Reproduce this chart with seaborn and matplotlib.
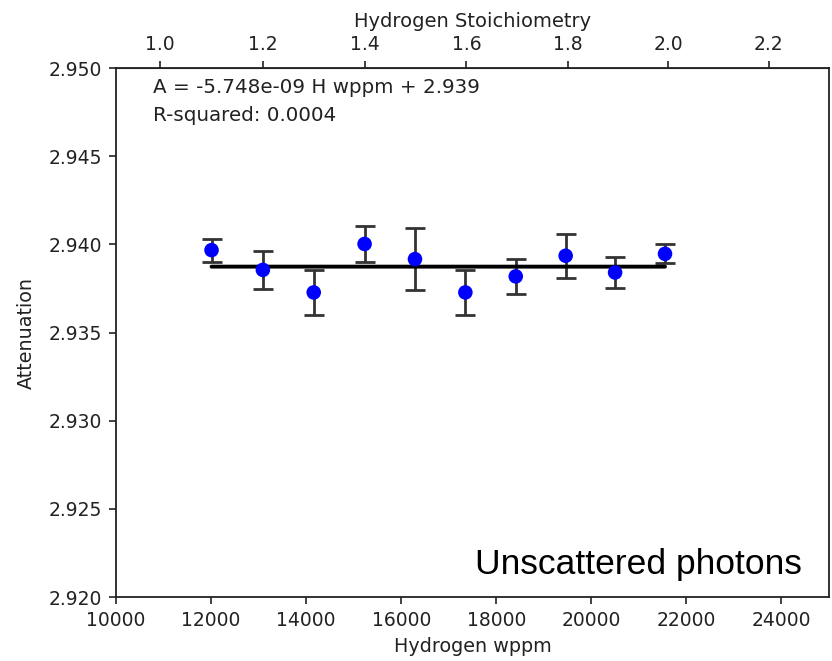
import numpy as np
import pandas as pd
import matplotlib
matplotlib.use("Agg")
import matplotlib.pyplot as plt
import seaborn as sns

# data
h_wppm = [12010, 13090, 14160, 15230, 16290, 17350, 18410, 19460, 20500, 21550]
attenuation = [2.93968, 2.93856, 2.93728, 2.94003, 2.93917,
               2.93728, 2.93819, 2.93936, 2.93841, 2.93947]
att_err = [0.00065, 0.00106, 0.00126, 0.00102, 0.00176,
           0.00126, 0.00100, 0.00126, 0.00089, 0.00053]
fit_text = "A = -5.748e-09 H wppm + 2.939\nR-squared: 0.0004"
panel_label = "Unscattered photons"

# ZrHx: wppm <-> stoichiometry for the top axis
M_ZR, M_H = 91.224, 1.008

def wppm_to_x(w):
    w = np.asarray(w, dtype=float)
    return w * M_ZR / (M_H * (1e6 - w))

def x_to_wppm(x):
    x = np.asarray(x, dtype=float)
    return 1e6 * x * M_H / (M_ZR + x * M_H)

df = pd.DataFrame({"wppm": h_wppm, "att": attenuation, "err": att_err})
slope, icpt = np.polyfit(df["wppm"], df["att"], 1)
fit_df = pd.DataFrame({"wppm": [df["wppm"].min(), df["wppm"].max()]})
fit_df["att"] = slope * fit_df["wppm"] + icpt

sns.set_style("ticks")
plt.rcParams["font.family"] = ["DejaVu Sans"]
txt_col = "#222222"

fig = plt.figure(figsize=(8.32, 6.61), dpi=100)
ax = fig.add_axes([0.1394, 0.0968, 0.857, 0.800])

ax.errorbar(df["wppm"], df["att"], yerr=df["err"], fmt="none",
            ecolor="#333333", elinewidth=2, capsize=7.5, capthick=2, zorder=2)
sns.lineplot(data=fit_df, x="wppm", y="att", color="black", linewidth=2.8,
             ax=ax, zorder=3)
sns.scatterplot(data=df, x="wppm", y="att", color="blue", s=110,
                edgecolor="none", ax=ax, zorder=4)

ax.set_xlim(10000, 25000)
ax.set_ylim(2.920, 2.950)
ax.set_xticks(np.arange(10000, 24001, 2000))
ax.set_yticks(np.arange(2.920, 2.9501, 0.005))
ax.yaxis.set_major_formatter(matplotlib.ticker.FormatStrFormatter("%.3f"))
ax.set_xlabel("Hydrogen wppm", fontsize=13.8, color=txt_col, labelpad=5)
ax.set_ylabel("Attenuation", fontsize=13.8, color=txt_col, labelpad=9)
ax.tick_params(labelsize=13.5, length=4.8, width=1.2, pad=5.5, colors=txt_col)
for sp in ax.spines.values():
    sp.set_visible(True)
    sp.set_linewidth(1.3)
    sp.set_color(txt_col)

top = ax.secondary_xaxis("top", functions=(wppm_to_x, x_to_wppm))
top.set_xticks([1.0, 1.2, 1.4, 1.6, 1.8, 2.0, 2.2])
top.xaxis.set_major_formatter(matplotlib.ticker.FormatStrFormatter("%.1f"))
top.set_xlabel("Hydrogen Stoichiometry", fontsize=14, color=txt_col, labelpad=6)
top.tick_params(labelsize=13.5, length=4.8, width=1.2, pad=5.5, colors=txt_col)

ax.text(0.052, 0.982, fit_text, transform=ax.transAxes, ha="left", va="top",
        fontsize=14.3, linespacing=1.6, color=txt_col)
ax.text(0.962, 0.03, panel_label, transform=ax.transAxes, ha="right",
        va="bottom", fontsize=25.5, family=["Liberation Sans"], color="black")

fig.savefig("out.png", dpi=100)
